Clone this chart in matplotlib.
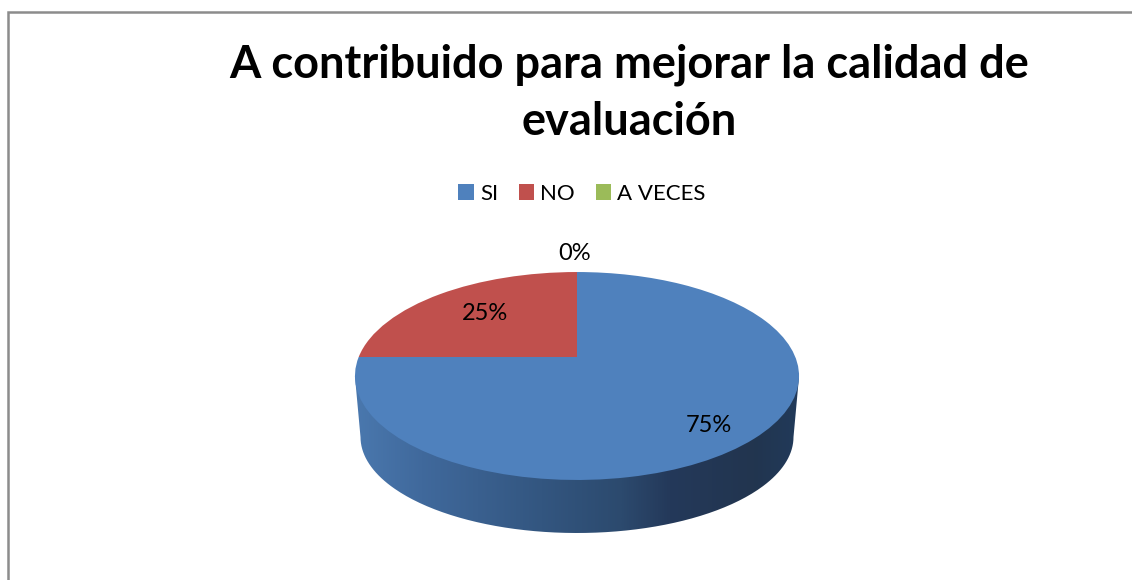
import numpy as np
import matplotlib
matplotlib.use("Agg")
import matplotlib.pyplot as plt
from matplotlib.path import Path
from matplotlib.transforms import Transform
from matplotlib.colors import LinearSegmentedColormap

title = "A contribuido para mejorar la calidad de\nevaluación"
categories = ["SI", "NO", "A VECES"]
values = [75, 25, 0]
colors = ["#4F81BD", "#C0504D", "#9BBB59"]
label_pos = [(709, 426), (485, 313), (575, 254)]

plt.rcParams["font.family"] = ["Lato", "DejaVu Sans"]
fig = plt.figure(figsize=(11.32, 5.8), dpi=100, facecolor="white")
ax = fig.add_axes([0, 0, 1, 1])


class Persp(Transform):
    input_dims = output_dims = 2
    is_affine = False
    cx, cy, a, b, k = 577.0, 357.0, 100.5, 218.3, 0.1827

    def transform_non_affine(self, xy):
        xy = np.asarray(xy, float)
        d = 1 + self.k * xy[:, 1]
        return np.column_stack((self.cx + self.b * xy[:, 0] / d,
                                self.cy - self.a * xy[:, 1] / d))


wedges, _ = ax.pie(values, colors=colors, startangle=90, counterclock=False,
                   wedgeprops=dict(linewidth=0))
persp = Persp()
for w in wedges:
    w.set_transform(persp + ax.transData)
    w.set_zorder(3)
    w.set_clip_on(False)

ax.set_aspect("auto")
ax.set_xlim(0, 1132)
ax.set_ylim(580, 0)
ax.axis("off")

# Side wall of the 3D pie
t = np.linspace(np.pi, 2 * np.pi, 200)
bx = 577 + 216.5 * np.cos(t)
by = 437 - 96 * np.sin(t)
verts = np.vstack(([[355, 377]], np.column_stack((bx, by)), [[799, 377]], [[355, 377]]))
side_cmap = LinearSegmentedColormap.from_list(
    "side",
    [(0.0, "#4A78AE"), (0.15, "#40699C"), (0.42, "#335680"),
     (0.6, "#2C4A6E"), (0.71, "#24395A"), (0.9, "#22354F"), (1.0, "#213A5A")],
)
img = ax.imshow(np.linspace(0, 1, 512)[None, :], cmap=side_cmap, aspect="auto",
                extent=(355, 799, 535, 370), zorder=2)
img.set_clip_path(Path(verts), ax.transData)
ax.set_xlim(0, 1132)
ax.set_ylim(580, 0)

# Chart border (left and top only visible)
ax.plot([8, 8, 1132], [580, 12, 12], color="#8C8C8C", lw=1.8, zorder=1,
        solid_joinstyle="miter")

ax.text(629, 135, title, ha="center", va="baseline", fontsize=32.5, fontweight="bold",
        color="black", linespacing=1.447)

for v, (x, y) in zip(values, label_pos):
    ax.text(x, y, f"{v}%", ha="center", va="center", fontsize=17, color="black", zorder=5)

fig.legend(wedges, categories, ncol=3, loc="center", bbox_to_anchor=(582 / 1132, 1 - 194 / 580),
           frameon=False, fontsize=16, handlelength=0.7, handleheight=0.7,
           handletextpad=0.28, columnspacing=0.92, borderpad=0)

fig.savefig("out.png", dpi=100, facecolor="white")
